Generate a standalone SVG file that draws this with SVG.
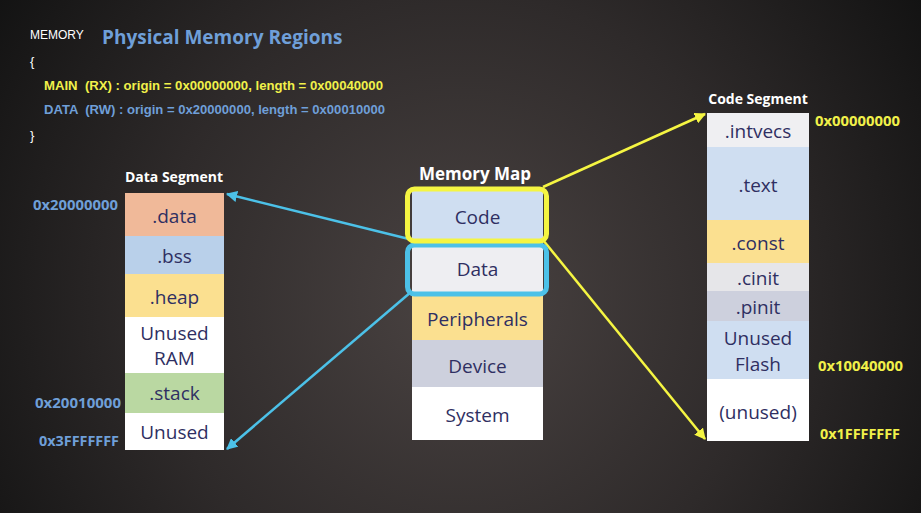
<svg xmlns="http://www.w3.org/2000/svg" width="921" height="513" viewBox="0 0 921 513">
<defs>
<radialGradient id="bg" cx="460" cy="300" r="560" gradientUnits="userSpaceOnUse">
<stop offset="0" stop-color="#4a4342"/>
<stop offset="0.55" stop-color="#2e2a2a"/>
<stop offset="1" stop-color="#121212"/>
</radialGradient>
<marker id="ay" viewBox="0 0 10 10" refX="9" refY="5" markerWidth="4.5" markerHeight="4.5" orient="auto-start-reverse" markerUnits="strokeWidth">
<path d="M0,0 L10,5 L0,10 z" fill="#f5f542"/>
</marker>
<marker id="ab" viewBox="0 0 10 10" refX="9" refY="5" markerWidth="4.5" markerHeight="4.5" orient="auto-start-reverse" markerUnits="strokeWidth">
<path d="M0,0 L10,5 L0,10 z" fill="#4cc1e8"/>
</marker>
</defs>
<style>
.lbl{font-family:"Open Sans","Noto Sans",sans-serif;font-size:19px;fill:#2f2f62;text-anchor:middle;dominant-baseline:central}
.ttl{font-family:"Open Sans","Noto Sans",sans-serif;font-weight:bold;fill:#ffffff;text-anchor:middle}
.addr{font-family:"Open Sans","Noto Sans",sans-serif;font-weight:bold;font-size:14px}
.code{font-family:"Liberation Sans",Arial,sans-serif;font-weight:bold;font-size:12.5px}
.cy{fill:#f1f14a}
.cb{fill:#6f9fd8}
</style>
<rect width="921" height="513" fill="url(#bg)"/>

<g id="header">
<text x="30" y="39" font-family="Liberation Sans,Arial,sans-serif" font-size="12" fill="#ffffff">MEMORY</text>
<text x="102" y="44" font-family="Open Sans,Noto Sans,sans-serif" font-weight="bold" font-size="19" fill="#6f9fd8">Physical Memory Regions</text>
<text x="30" y="66" font-family="Liberation Sans,Arial,sans-serif" font-size="13" fill="#ffffff">{</text>
<text x="44" y="90" class="code cy" xml:space="preserve" textLength="339" lengthAdjust="spacingAndGlyphs">MAIN  (RX) : origin = 0x00000000, length = 0x00040000</text>
<text x="44" y="114" class="code cb" xml:space="preserve" textLength="341" lengthAdjust="spacingAndGlyphs">DATA  (RW) : origin = 0x20000000, length = 0x00010000</text>
<text x="30" y="140" font-family="Liberation Sans,Arial,sans-serif" font-size="13" fill="#ffffff">}</text>
</g>

<g id="connectors" fill="none" stroke-width="2.5">
<line x1="543" y1="187" x2="705" y2="114" stroke="#f5f542" marker-end="url(#ay)"/>
<line x1="543" y1="240" x2="705" y2="439" stroke="#f5f542" marker-end="url(#ay)"/>
<line x1="409" y1="239" x2="227" y2="194" stroke="#4cc1e8" marker-end="url(#ab)"/>
<line x1="411" y1="292" x2="227" y2="449" stroke="#4cc1e8" marker-end="url(#ab)"/>
</g>

<g id="data-segment">
<text x="174" y="182" class="ttl" font-size="14">Data Segment</text>
<rect x="125" y="193" width="99" height="43" fill="#f0b999"/>
<text x="174.5" y="216" class="lbl">.data</text>
<rect x="125" y="236" width="99" height="38" fill="#b9d0ea"/>
<text x="174.5" y="256" class="lbl">.bss</text>
<rect x="125" y="274" width="99" height="43" fill="#fbe090"/>
<text x="174.5" y="297" class="lbl">.heap</text>
<rect x="125" y="317" width="99" height="56" fill="#ffffff"/>
<text x="174.5" y="333" class="lbl">Unused</text>
<text x="174.5" y="358" class="lbl">RAM</text>
<rect x="125" y="373" width="99" height="40" fill="#bad8a2"/>
<text x="174.5" y="393" class="lbl">.stack</text>
<rect x="125" y="413" width="99" height="37" fill="#ffffff"/>
<text x="174.5" y="432" class="lbl">Unused</text>
<text x="33" y="210" class="addr cb" textLength="85" lengthAdjust="spacingAndGlyphs">0x20000000</text>
<text x="35" y="408" class="addr cb" textLength="86" lengthAdjust="spacingAndGlyphs">0x20010000</text>
<text x="39" y="446" class="addr cb" textLength="80" lengthAdjust="spacingAndGlyphs">0x3FFFFFFF</text>
</g>

<g id="memory-map">
<text x="475" y="180" class="ttl" font-size="17">Memory Map</text>
<rect x="412" y="190" width="131" height="52" fill="#cfdef1"/>
<text x="477.5" y="217" class="lbl">Code</text>
<rect x="412" y="242" width="131" height="53" fill="#eeeef2"/>
<text x="477.5" y="269" class="lbl">Data</text>
<rect x="412" y="295" width="131" height="45" fill="#fbe090"/>
<text x="477.5" y="319" class="lbl">Peripherals</text>
<rect x="412" y="340" width="131" height="47" fill="#cdd0dd"/>
<text x="477.5" y="366" class="lbl">Device</text>
<rect x="412" y="387" width="131" height="53" fill="#ffffff"/>
<text x="477.5" y="415" class="lbl">System</text>
<rect x="407.5" y="245" width="139" height="49" rx="7" fill="none" stroke="#4cc1e8" stroke-width="5"/>
<rect x="407.5" y="189" width="139" height="52" rx="7" fill="none" stroke="#f5f542" stroke-width="5"/>
</g>

<g id="code-segment">
<text x="758" y="104" class="ttl" font-size="14">Code Segment</text>
<rect x="707" y="113" width="102" height="34" fill="#efeff2"/>
<text x="758" y="131" class="lbl">.intvecs</text>
<rect x="707" y="147" width="102" height="73" fill="#cfdef1"/>
<text x="758" y="185" class="lbl">.text</text>
<rect x="707" y="220" width="102" height="43" fill="#fbe090"/>
<text x="758" y="243" class="lbl">.const</text>
<rect x="707" y="263" width="102" height="28" fill="#e6e6e9"/>
<text x="758" y="278" class="lbl">.cinit</text>
<rect x="707" y="291" width="102" height="30" fill="#cdd0dd"/>
<text x="758" y="307" class="lbl">.pinit</text>
<rect x="707" y="321" width="102" height="58" fill="#cfdef1"/>
<text x="758" y="338" class="lbl">Unused</text>
<text x="758" y="364" class="lbl">Flash</text>
<rect x="707" y="379" width="102" height="62" fill="#ffffff"/>
<text x="758" y="412" class="lbl">(unused)</text>
<text x="815" y="126" class="addr cy" textLength="85" lengthAdjust="spacingAndGlyphs">0x00000000</text>
<text x="818" y="371" class="addr cy" textLength="85" lengthAdjust="spacingAndGlyphs">0x10040000</text>
<text x="820" y="439" class="addr cy" textLength="80" lengthAdjust="spacingAndGlyphs">0x1FFFFFFF</text>
</g>
</svg>
